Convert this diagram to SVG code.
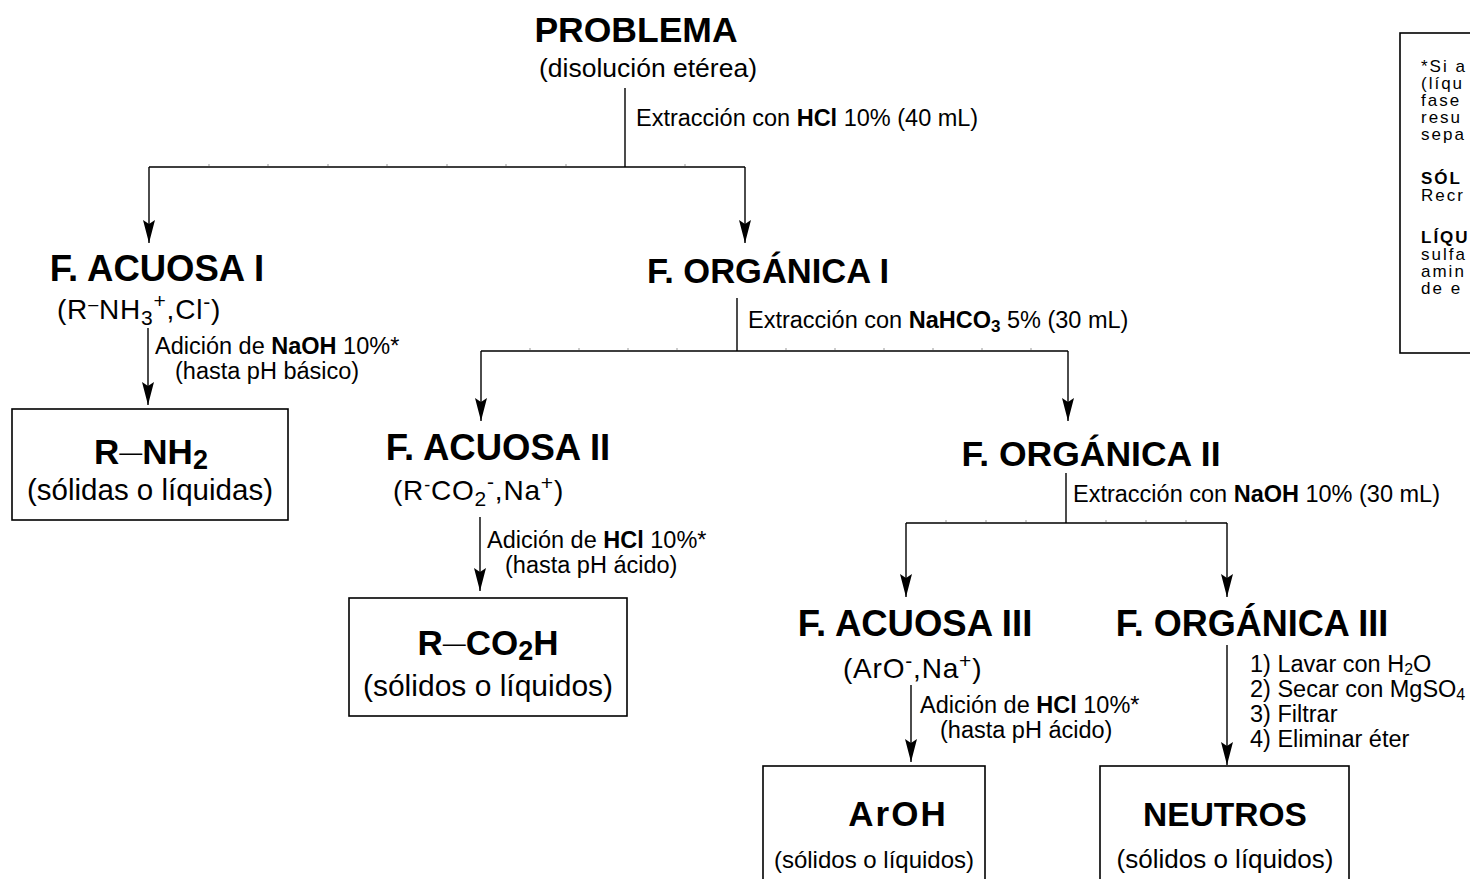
<svg xmlns="http://www.w3.org/2000/svg" width="1470" height="879" viewBox="0 0 1470 879">
<defs>
<style>
text{font-family:"Liberation Sans",Arial,sans-serif;fill:#000}
.title{font-weight:bold}
.btitle{font-weight:bold}
.lbl{font-size:23.5px}
.note{font-size:17px;letter-spacing:2px}
.b{font-weight:bold}
.bond{font-weight:normal;font-size:23px}
.line{stroke:#000;stroke-width:1.4;fill:none}
.arrow{stroke:#000;stroke-width:1.4;fill:none;marker-end:url(#arr)}
.tick{stroke:#999;stroke-width:1}
.box{fill:#fff;stroke:#000;stroke-width:1.6}
</style>
<marker id="arr" markerUnits="userSpaceOnUse" markerWidth="23" markerHeight="12" refX="23" refY="6" orient="auto" viewBox="0 0 23 12">
<path d="M0,0 L23,6 L0,12 L4,6 Z" fill="#000"/>
</marker>
</defs>
<rect width="1470" height="879" fill="#fff"/>

<g id="connectors">
<path class="line" d="M625,88 V167 M149,167 H745"/>
<path class="arrow" d="M149,167 V243"/>
<path class="arrow" d="M745,167 V243"/>
<path class="arrow" d="M148,328 V405"/>
<path class="line" d="M737,298 V351 M481,351 H1068"/>
<path class="arrow" d="M481,351 V421"/>
<path class="arrow" d="M1068,351 V421"/>
<path class="arrow" d="M480,517 V591"/>
<path class="line" d="M1066,473 V523 M906,523 H1227"/>
<path class="arrow" d="M906,523 V597"/>
<path class="arrow" d="M1227,523 V597"/>
<path class="arrow" d="M911,685 V762"/>
<path class="arrow" d="M1227,645 V765"/>
<g class="tick">
<path d="M209,166 v-2 M268,166 v-2 M328,166 v-2 M387,166 v-2 M447,166 v-2 M506,166 v-2 M566,166 v-2 M685,166 v-2"/>
<path d="M530,350 v-2 M579,350 v-2 M628,350 v-2 M677,350 v-2 M786,350 v-2 M835,350 v-2 M884,350 v-2 M933,350 v-2 M982,350 v-2 M1031,350 v-2"/>
<path d="M946,522 v-2 M986,522 v-2 M1026,522 v-2 M1106,522 v-2 M1146,522 v-2 M1186,522 v-2"/>
</g>
<text class="lbl" x="636" y="126">Extracción con <tspan class="b">HCl</tspan> 10% (40 mL)</text>
<text class="lbl" x="155" y="354">Adición de <tspan class="b">NaOH</tspan> 10%*</text>
<text class="lbl" x="175" y="379">(hasta pH básico)</text>
<text class="lbl" x="748" y="328">Extracción con <tspan class="b">NaHCO</tspan><tspan class="b" style="font-size:17px" dy="4">3</tspan><tspan dy="-4"> 5% (30 mL)</tspan></text>
<text class="lbl" x="487" y="548">Adición de <tspan class="b">HCl</tspan> 10%*</text>
<text class="lbl" x="505" y="573">(hasta pH ácido)</text>
<text class="lbl" x="1073" y="502">Extracción con <tspan class="b">NaOH</tspan> 10% (30 mL)</text>
<text class="lbl" x="920" y="713">Adición de <tspan class="b">HCl</tspan> 10%*</text>
<text class="lbl" x="940" y="738">(hasta pH ácido)</text>
<text class="lbl" x="1250" y="672">1) Lavar con H<tspan style="font-size:16px" dy="3">2</tspan><tspan dy="-3">O</tspan></text>
<text class="lbl" x="1250" y="697">2) Secar con MgSO<tspan style="font-size:16px" dy="3">4</tspan></text>
<text class="lbl" x="1250" y="722">3) Filtrar</text>
<text class="lbl" x="1250" y="747">4) Eliminar éter</text>
</g>

<g id="problema">
<text class="title" x="636" y="42" text-anchor="middle" style="font-size:35.5px">PROBLEMA</text>
<text x="648" y="77" text-anchor="middle" style="font-size:26.5px">(disolución etérea)</text>
</g>

<g id="acuosa1">
<text class="title" x="157" y="281" text-anchor="middle" style="font-size:36.5px">F. ACUOSA I</text>
<text x="57" y="319" style="font-size:28px;letter-spacing:0.8px">(R<tspan style="font-size:18px" dy="-9">–</tspan><tspan dy="9">NH</tspan><tspan style="font-size:21px" dy="6">3</tspan><tspan style="font-size:21px" dy="-17">+</tspan><tspan dy="11">,Cl</tspan><tspan style="font-size:21px" dy="-10">-</tspan><tspan dy="10">)</tspan></text>
</g>

<g id="amina">
<rect class="box" x="12" y="409" width="276" height="111"/>
<text class="btitle" x="151" y="464" text-anchor="middle" style="font-size:35px">R<tspan class="bond" dy="-4">—</tspan><tspan dy="4">NH</tspan><tspan style="font-size:27px" dy="5">2</tspan></text>
<text x="150" y="500" text-anchor="middle" style="font-size:29.5px">(sólidas o líquidas)</text>
</g>

<g id="organica1">
<text class="title" x="768" y="283" text-anchor="middle" style="font-size:34.5px">F. ORGÁNICA I</text>
</g>

<g id="acuosa2">
<text class="title" x="498" y="460" text-anchor="middle" style="font-size:36.5px">F. ACUOSA II</text>
<text x="393" y="500" style="font-size:28px;letter-spacing:0.8px">(R<tspan style="font-size:18px" dy="-9">-</tspan><tspan dy="9">CO</tspan><tspan style="font-size:21px" dy="6">2</tspan><tspan style="font-size:21px" dy="-17">-</tspan><tspan dy="11">,Na</tspan><tspan style="font-size:21px" dy="-10">+</tspan><tspan dy="10">)</tspan></text>
</g>

<g id="acido">
<rect class="box" x="349" y="598" width="278" height="118"/>
<text class="btitle" x="488" y="655" text-anchor="middle" style="font-size:35px">R<tspan class="bond" dy="-4">—</tspan><tspan dy="4">CO</tspan><tspan style="font-size:27px" dy="5">2</tspan><tspan dy="-5">H</tspan></text>
<text x="488" y="696" text-anchor="middle" style="font-size:30px">(sólidos o líquidos)</text>
</g>

<g id="organica2">
<text class="title" x="1091" y="466" text-anchor="middle" style="font-size:35.5px">F. ORGÁNICA II</text>
</g>

<g id="acuosa3">
<text class="title" x="915" y="636" text-anchor="middle" style="font-size:36.5px">F. ACUOSA III</text>
<text x="843" y="678" style="font-size:28px;letter-spacing:0.8px">(ArO<tspan style="font-size:21px" dy="-10">-</tspan><tspan dy="10">,Na</tspan><tspan style="font-size:21px" dy="-10">+</tspan><tspan dy="10">)</tspan></text>
</g>

<g id="organica3">
<text class="title" x="1252" y="636" text-anchor="middle" style="font-size:36px">F. ORGÁNICA III</text>
</g>

<g id="aroh">
<rect class="box" x="763" y="766" width="222" height="125"/>
<text class="btitle" x="898" y="826" text-anchor="middle" style="font-size:35px;letter-spacing:2px">ArOH</text>
<text x="874" y="868" text-anchor="middle" style="font-size:24px">(sólidos o líquidos)</text>
</g>

<g id="neutros">
<rect class="box" x="1100" y="766" width="249" height="125"/>
<text class="btitle" x="1225" y="826" text-anchor="middle" style="font-size:33.5px">NEUTROS</text>
<text x="1225" y="868" text-anchor="middle" style="font-size:26px">(sólidos o líquidos)</text>
</g>

<g id="nota">
<rect class="box" x="1400" y="33" width="90" height="320"/>
<text class="note" x="1421" y="72">*Si a</text>
<text class="note" x="1421" y="89">(líqu</text>
<text class="note" x="1421" y="106">fase</text>
<text class="note" x="1421" y="123">resu</text>
<text class="note" x="1421" y="140">sepa</text>
<text class="note b" x="1421" y="184">SÓL</text>
<text class="note" x="1421" y="201">Recr</text>
<text class="note b" x="1421" y="243">LÍQU</text>
<text class="note" x="1421" y="260">sulfa</text>
<text class="note" x="1421" y="277">amin</text>
<text class="note" x="1421" y="294">de e</text>
</g>
</svg>
